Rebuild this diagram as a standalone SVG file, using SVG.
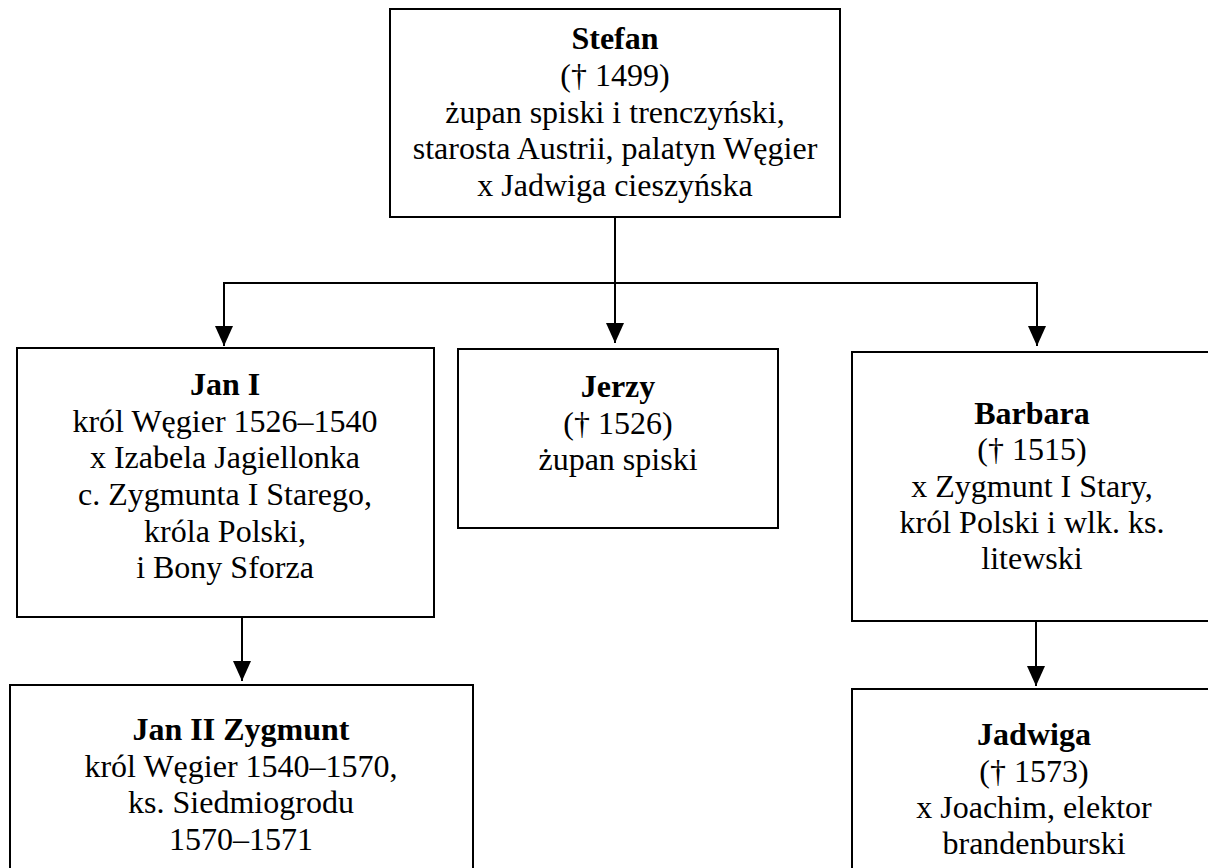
<svg xmlns="http://www.w3.org/2000/svg" width="1208" height="868" viewBox="0 0 1208 868">
<style>
.box{fill:#fff;stroke:#000;stroke-width:2}
.t{font-family:"Liberation Serif","Times New Roman",serif;font-size:32px;fill:#000;text-anchor:middle}
.b{font-weight:bold}
.c{fill:none;stroke:#000;stroke-width:2}
</style>
<defs>
<marker id="ah" viewBox="0 0 20 18" refX="20" refY="9" markerWidth="20" markerHeight="18" markerUnits="userSpaceOnUse" orient="auto">
<path d="M0,0 L20,9 L0,18 z" fill="#000"/>
</marker>
</defs>
<rect width="1208" height="868" fill="#fff"/>
<g id="connectors">
<path class="c" d="M615,217 V343" marker-end="url(#ah)"/>
<path class="c" d="M615,283 H224 V346" marker-end="url(#ah)"/>
<path class="c" d="M615,283 H1037 V346" marker-end="url(#ah)"/>
<path class="c" d="M242,617 V681" marker-end="url(#ah)"/>
<path class="c" d="M1036,621 V686" marker-end="url(#ah)"/>
</g>
<g id="stefan">
<rect class="box" x="390" y="9" width="450" height="208"/>
<text class="t b" x="615" y="49">Stefan</text>
<text class="t" x="615" y="86">(† 1499)</text>
<text class="t" x="615" y="123">żupan spiski i trenczyński,</text>
<text class="t" x="615" y="159">starosta Austrii, palatyn Węgier</text>
<text class="t" x="615" y="196">x Jadwiga cieszyńska</text>
</g>
<g id="jan1">
<rect class="box" x="17" y="348" width="417" height="269"/>
<text class="t b" x="225" y="395">Jan I</text>
<text class="t" x="225" y="432">król Węgier 1526–1540</text>
<text class="t" x="225" y="468">x Izabela Jagiellonka</text>
<text class="t" x="225" y="505">c. Zygmunta I Starego,</text>
<text class="t" x="225" y="542">króla Polski,</text>
<text class="t" x="225" y="578">i Bony Sforza</text>
</g>
<g id="jerzy">
<rect class="box" x="458" y="349" width="320" height="179"/>
<text class="t b" x="618" y="397">Jerzy</text>
<text class="t" x="618" y="434">(† 1526)</text>
<text class="t" x="618" y="470">żupan spiski</text>
</g>
<g id="barbara">
<rect class="box" x="852" y="352" width="364" height="269"/>
<text class="t b" x="1032" y="424">Barbara</text>
<text class="t" x="1032" y="460">(† 1515)</text>
<text class="t" x="1032" y="497">x Zygmunt I Stary,</text>
<text class="t" x="1032" y="533">król Polski i wlk. ks.</text>
<text class="t" x="1032" y="569">litewski</text>
</g>
<g id="jan2">
<rect class="box" x="10" y="685" width="463" height="200"/>
<text class="t b" x="241" y="740">Jan II Zygmunt</text>
<text class="t" x="241" y="777">król Węgier 1540–1570,</text>
<text class="t" x="241" y="813">ks. Siedmiogrodu</text>
<text class="t" x="241" y="850">1570–1571</text>
</g>
<g id="jadwiga">
<rect class="box" x="852" y="689" width="364" height="200"/>
<text class="t b" x="1034" y="745">Jadwiga</text>
<text class="t" x="1034" y="782">(† 1573)</text>
<text class="t" x="1034" y="818">x Joachim, elektor</text>
<text class="t" x="1034" y="854">brandenburski</text>
</g>
</svg>
